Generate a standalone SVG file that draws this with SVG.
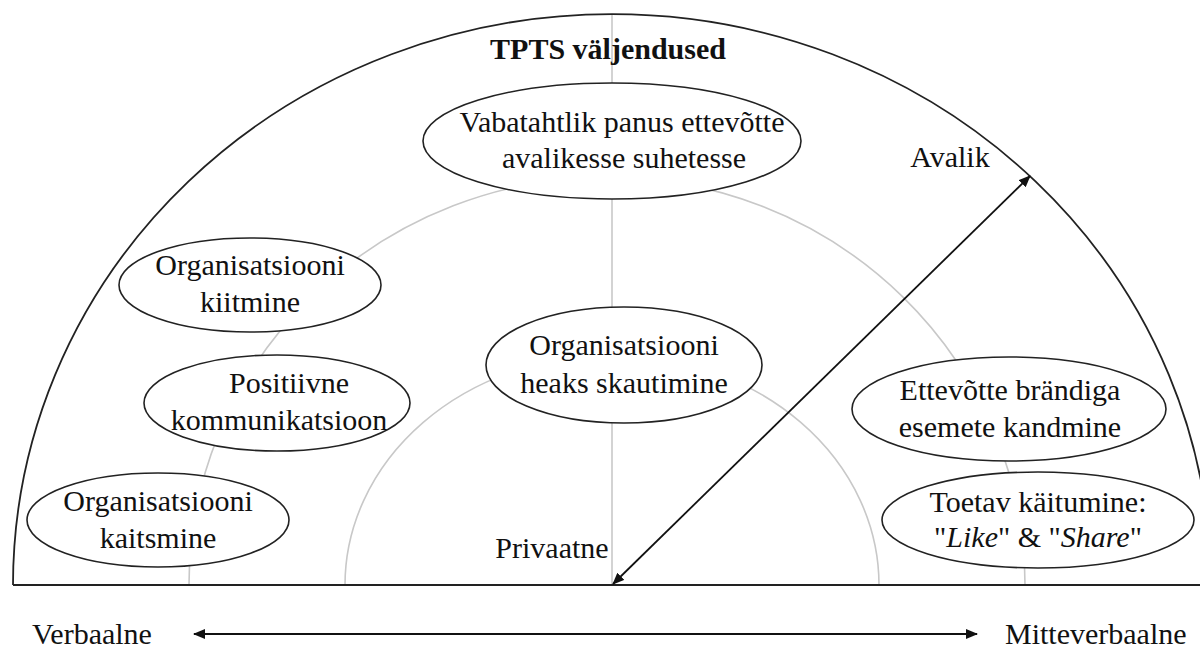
<svg xmlns="http://www.w3.org/2000/svg" width="1200" height="650" viewBox="0 0 1200 650" font-family="'Liberation Serif', Tinos, 'DejaVu Serif', serif">
  <style>
    text { font-family: "Liberation Serif", Tinos, "DejaVu Serif", serif; font-size: 30px; fill: #111; }
    .title { font-weight: bold; }
    .node ellipse { fill: #fff; stroke: #222; stroke-width: 1.6; }
    .guide { fill: none; stroke: #c8c8c8; stroke-width: 1.6; }
    .frame { fill: none; stroke: #222; stroke-width: 1.8; }
    .conn { stroke: #111; stroke-width: 1.8; fill: none; }
  </style>
  <defs>
    <marker id="ah" viewBox="0 0 12 10" refX="11" refY="5" markerWidth="12" markerHeight="10" markerUnits="userSpaceOnUse" orient="auto-start-reverse">
      <path d="M0,0 L12,5 L0,10 Z" fill="#111"/>
    </marker>
  </defs>

  <rect width="1200" height="650" fill="#fff"/>

  <!-- guide rings and central axis -->
  <g id="guides">
    <path class="guide" d="M189,585 A418,408 0 0 1 1025,585"/>
    <path class="guide" d="M345,585 A267,230 0 0 1 879,585"/>
    <line class="guide" x1="612" y1="14" x2="612" y2="585"/>
  </g>

  <!-- outer half-dome and base line -->
  <g id="frame">
    <path class="frame" d="M13,585 A599,571 0 0 1 1211,585"/>
    <line class="frame" x1="13" y1="585" x2="1200" y2="585" stroke="#444"/>
  </g>

  <text class="title" x="608" y="59" text-anchor="middle">TPTS väljendused</text>

  <g id="connectors">
    <line class="conn" x1="613" y1="584" x2="1030" y2="176" marker-start="url(#ah)" marker-end="url(#ah)"/>
    <line class="conn" x1="194" y1="634" x2="977" y2="634" marker-start="url(#ah)" marker-end="url(#ah)"/>
  </g>

  <g id="n-vabatahtlik" class="node">
    <ellipse cx="612" cy="141" rx="189" ry="58"/>
    <text x="622" y="132" text-anchor="middle">Vabatahtlik panus ettevõtte</text>
    <text x="624" y="168" text-anchor="middle">avalikesse suhetesse</text>
  </g>

  <g id="n-kiitmine" class="node">
    <ellipse cx="250" cy="285" rx="131" ry="47"/>
    <text x="250" y="275" text-anchor="middle">Organisatsiooni</text>
    <text x="250" y="312" text-anchor="middle">kiitmine</text>
  </g>

  <g id="n-positiivne" class="node">
    <ellipse cx="277" cy="403" rx="133" ry="48"/>
    <text x="289" y="393" text-anchor="middle">Positiivne</text>
    <text x="279" y="430" text-anchor="middle">kommunikatsioon</text>
  </g>

  <g id="n-kaitsmine" class="node">
    <ellipse cx="158" cy="520" rx="131" ry="47"/>
    <text x="158" y="511" text-anchor="middle">Organisatsiooni</text>
    <text x="158" y="548" text-anchor="middle">kaitsmine</text>
  </g>

  <g id="n-skautimine" class="node">
    <ellipse cx="624" cy="365" rx="138" ry="58"/>
    <text x="624" y="355" text-anchor="middle">Organisatsiooni</text>
    <text x="624" y="393" text-anchor="middle">heaks skautimine</text>
  </g>

  <g id="n-brandiga" class="node">
    <ellipse cx="1009" cy="409" rx="157" ry="52"/>
    <text x="1010" y="400" text-anchor="middle">Ettevõtte brändiga</text>
    <text x="1010" y="437" text-anchor="middle">esemete kandmine</text>
  </g>

  <g id="n-toetav" class="node">
    <ellipse cx="1038" cy="520" rx="156" ry="48"/>
    <text x="1038" y="512" text-anchor="middle">Toetav käitumine:</text>
    <text x="1038" y="547" text-anchor="middle">"<tspan font-style="italic">Like</tspan>" &amp; "<tspan font-style="italic">Share</tspan>"</text>
  </g>

  <g id="labels">
    <text x="950" y="167" text-anchor="middle">Avalik</text>
    <text x="552" y="558" text-anchor="middle">Privaatne</text>
    <text x="32" y="644">Verbaalne</text>
    <text x="1005" y="644">Mitteverbaalne</text>
  </g>
</svg>
